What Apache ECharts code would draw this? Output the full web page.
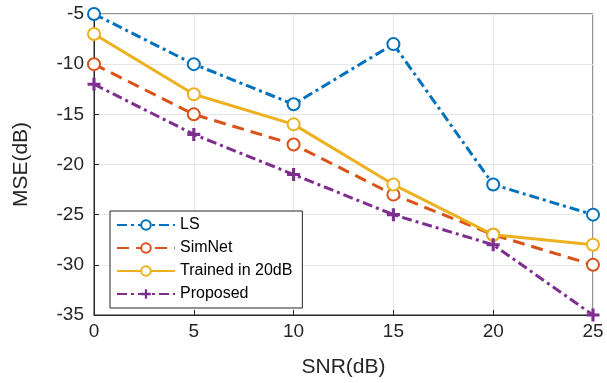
<!DOCTYPE html>
<html><head><meta charset="utf-8">
<script src="https://cdn.jsdelivr.net/npm/echarts@6/dist/echarts.min.js"></script>
<style>html,body{margin:0;padding:0;background:#fff}#c{width:607px;height:383px}</style>
</head><body><div id="c"></div>
<script>
const snr = [0, 5, 10, 15, 20, 25];
const lsMSE = [-5, -10, -14, -8, -22, -25];
const simnetMSE = [-10, -15, -18, -23, -27, -30];
const trainedMSE = [-7, -13, -16, -22, -27, -28];
const proposedMSE = [-12, -17, -21, -25, -28, -35];
const seriesNames = ['LS', 'SimNet', 'Trained in 20dB', 'Proposed'];

const FONT = 'Liberation Sans, Arial, sans-serif';
const plus = 'path://M3.8,0H6.2V3.8H10V6.2H6.2V10H3.8V6.2H0V3.8H3.8Z';
const pairs = a => snr.map((x, i) => [x, a[i]]);
function mk(name, data, color, type, symbol, size) {
  return {
    name, type: 'line', data: pairs(data), symbol, symbolSize: size,
    showAllSymbol: true,
    lineStyle: { color, width: 3, type },
    itemStyle: { color, borderColor: color, borderWidth: symbol === 'emptyCircle' ? 2.5 : 0 },
    z: 3
  };
}
const chart = echarts.init(document.getElementById('c'), null, { renderer: 'canvas' });
chart.setOption({
  animation: false,
  backgroundColor: '#fff',
  grid: { left: 94, right: 14, top: 14, bottom: 62, show: true, borderColor: '#262626', borderWidth: 1, backgroundColor: '#fff' },
  legend: {
    data: seriesNames, orient: 'vertical', left: 110, top: 211,
    itemWidth: 58, itemHeight: 12, itemGap: 7,
    backgroundColor: '#fff', borderColor: '#262626', borderWidth: 1, padding: [6, 10, 6, 6],
    textStyle: { fontFamily: FONT, fontSize: 16, color: '#000' }
  },
  xAxis: {
    type: 'value', min: 0, max: 25, interval: 5,
    name: 'SNR(dB)', nameLocation: 'middle', nameGap: 42,
    nameTextStyle: { fontFamily: FONT, fontSize: 21, color: '#262626' },
    axisLine: { show: true, lineStyle: { color: '#262626' } },
    axisTick: { show: true, inside: true, length: 5, lineStyle: { color: '#262626' } },
    axisLabel: { fontFamily: FONT, fontSize: 19, color: '#262626', margin: 7 },
    splitLine: { show: true, lineStyle: { color: '#e6e6e6' } }
  },
  yAxis: {
    type: 'value', min: -35, max: -5, interval: 5,
    name: 'MSE(dB)', nameLocation: 'middle', nameGap: 62,
    nameTextStyle: { fontFamily: FONT, fontSize: 21, color: '#262626' },
    axisLine: { show: true, lineStyle: { color: '#262626' } },
    axisTick: { show: true, inside: true, length: 5, lineStyle: { color: '#262626' } },
    axisLabel: { fontFamily: FONT, fontSize: 19, color: '#262626', margin: 10 },
    splitLine: { show: true, lineStyle: { color: '#e6e6e6' } }
  },
  series: [
    mk(seriesNames[0], lsMSE, '#0072BD', [10, 4, 3, 4], 'emptyCircle', 12),
    mk(seriesNames[1], simnetMSE, '#D95319', [12, 7], 'emptyCircle', 12),
    mk(seriesNames[2], trainedMSE, '#EDB120', 'solid', 'emptyCircle', 12),
    mk(seriesNames[3], proposedMSE, '#7E2F8E', [10, 4, 3, 4], plus, 13)
  ]
});
</script></body></html>
